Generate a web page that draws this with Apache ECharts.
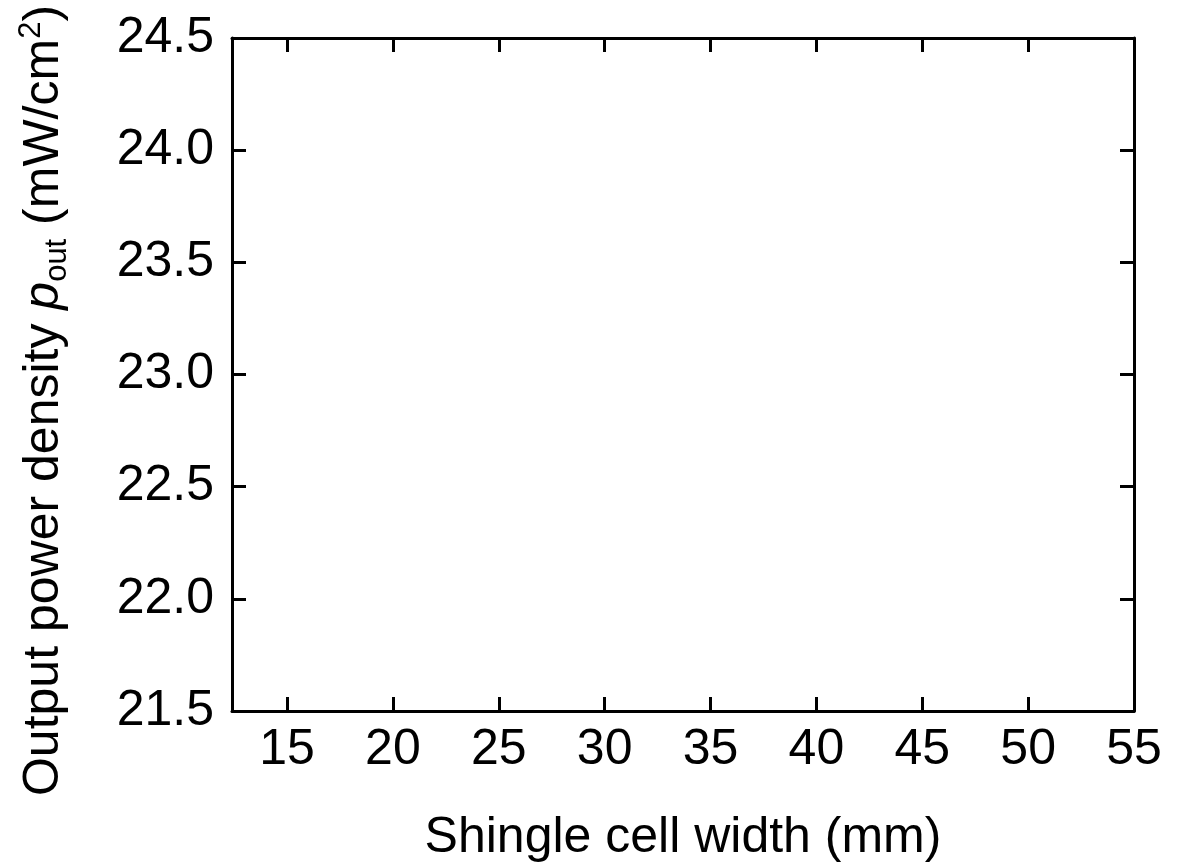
<!DOCTYPE html>
<html>
<head>
<meta charset="utf-8">
<script src="https://cdn.jsdelivr.net/npm/echarts@6/dist/echarts.min.js"></script>
<style>
html,body{margin:0;padding:0;background:#fff;}
#c{width:1188px;height:868px;}
</style>
</head>
<body>
<div id="c"></div>
<script>
// Data (the reference plot shows empty axes)
const xTicks = [15, 20, 25, 30, 35, 40, 45, 50, 55];
const yTicks = [21.5, 22.0, 22.5, 23.0, 23.5, 24.0, 24.5];
const seriesData = [];
const xRange = [12.4, 55];
const yRange = [21.5, 24.5];

const FONT = 'Liberation Sans, Arial, sans-serif';
const FS = 50;
const LW = 3;

const chart = echarts.init(document.getElementById('c'));
const axisLine = {show: true, lineStyle: {color: '#000', width: LW}};
const tick = {show: true, inside: true, length: 14, lineStyle: {color: '#000', width: LW}};

chart.setOption({
  backgroundColor: '#fff',
  animation: false,
  grid: {left: 232, right: 54, top: 38, bottom: 157, containLabel: false, outerBoundsMode: 'none'},
  xAxis: [{
    type: 'value', position: 'bottom', min: xRange[0], max: xRange[1],
    axisLine: axisLine, splitLine: {show: false},
    axisTick: Object.assign({}, tick, {customValues: xTicks}),
    axisLabel: {customValues: xTicks, color: '#000', fontSize: FS, fontFamily: FONT, margin: 14},
    name: 'Shingle cell width (mm)', nameLocation: 'middle', nameGap: 102,
    nameTextStyle: {color: '#000', fontSize: FS, fontFamily: FONT}
  }, {
    type: 'value', position: 'top', min: xRange[0], max: xRange[1],
    axisLine: axisLine, splitLine: {show: false},
    axisTick: Object.assign({}, tick, {customValues: xTicks}),
    axisLabel: {show: false}
  }],
  yAxis: [{
    type: 'value', position: 'left', min: yRange[0], max: yRange[1], interval: 0.5,
    axisLine: axisLine, splitLine: {show: false},
    axisTick: tick,
    axisLabel: {color: '#000', fontSize: FS, fontFamily: FONT, margin: 18,
      formatter: v => v.toFixed(1)},
    name: '{n|Output power density }{i|p}{s|out}{n| (mW/cm}{u|2}{n|)}',
    nameLocation: 'middle', nameRotate: 90, nameGap: 160,
    nameTextStyle: {
      color: '#000', fontSize: FS, fontFamily: FONT, padding: [0, 52, 0, 0],
      rich: {
        n: {fontSize: FS, fontFamily: FONT, color: '#000', verticalAlign: 'middle', lineHeight: 56},
        i: {fontSize: FS, fontFamily: FONT, fontStyle: 'italic', color: '#000', verticalAlign: 'middle', lineHeight: 56},
        s: {fontSize: 31, fontFamily: FONT, color: '#000', verticalAlign: 'middle', lineHeight: 31, padding: [26, 0, 0, 0]},
        u: {fontSize: 31, fontFamily: FONT, color: '#000', verticalAlign: 'middle', lineHeight: 31, padding: [0, 0, 26, 0]}
      }
    }
  }, {
    type: 'value', position: 'right', min: yRange[0], max: yRange[1], interval: 0.5,
    axisLine: axisLine, splitLine: {show: false},
    axisTick: tick, axisLabel: {show: false}
  }],
  series: [{type: 'scatter', xAxisIndex: 0, yAxisIndex: 0, data: seriesData}]
});
</script>
</body>
</html>
